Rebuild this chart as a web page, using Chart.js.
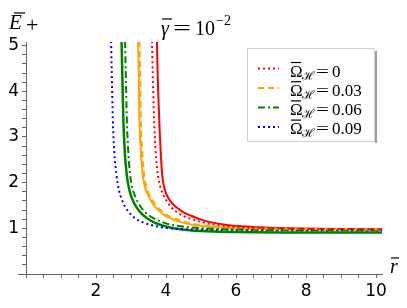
<!DOCTYPE html>
<html>
<head>
<meta charset="utf-8">
<script src="https://cdn.jsdelivr.net/npm/chart.js@4.4.0/dist/chart.umd.min.js"></script>
<style>
  html, body { margin: 0; padding: 0; background: #fff; }
</style>
</head>
<body>
<canvas id="chart" width="407" height="308"></canvas>
<script>
// Data (r̄, Ē+)
const legendLabels = ["0", "0.03", "0.06", "0.09"];

// legend curves (dotted / dashed / dash-dot)
const rRedDot = [3.60, 3.62, 3.65, 3.68, 3.72, 3.77, 3.84, 3.93, 4.05, 4.16, 4.30, 4.50, 4.70, 5.00, 5.40, 6.00, 7.00, 8.00, 10.2];
const eRedDot = [5.10, 4.40, 3.60, 3.00, 2.50, 2.15, 1.90, 1.72, 1.56, 1.45, 1.36, 1.27, 1.21, 1.14, 1.08, 1.03, 1.00, 0.99, 0.98];
const rOrangeDash = [3.24, 3.26, 3.28, 3.32, 3.37, 3.44, 3.54, 3.66, 3.82, 4.03, 4.30, 4.60, 5.00, 5.60, 6.50, 8.00, 10.2];
const eOrangeDash = [5.10, 4.40, 3.40, 2.70, 2.20, 1.90, 1.72, 1.56, 1.42, 1.29, 1.20, 1.13, 1.07, 1.03, 1.00, 0.99, 0.98];
const rGreenDashDot = [2.83, 2.85, 2.88, 2.92, 2.97, 3.04, 3.13, 3.25, 3.42, 3.65, 3.95, 4.30, 4.70, 5.30, 6.50, 8.00, 10.2];
const eGreenDashDot = [5.10, 4.40, 3.40, 2.70, 2.20, 1.88, 1.68, 1.50, 1.34, 1.22, 1.12, 1.06, 1.02, 0.99, 0.97, 0.96, 0.96];
const rBlueDot = [2.43, 2.45, 2.48, 2.52, 2.58, 2.65, 2.74, 2.85, 3.00, 3.20, 3.45, 3.75, 4.10, 4.60, 5.50, 7.00, 10.2];
const eBlueDot = [5.10, 4.40, 3.40, 2.70, 2.20, 1.85, 1.63, 1.45, 1.30, 1.18, 1.10, 1.04, 1.00, 0.98, 0.97, 0.96, 0.96];

// solid companion curves
const rRedSolid = [3.74, 3.76, 3.79, 3.82, 3.86, 3.90, 3.96, 4.04, 4.15, 4.30, 4.50, 4.70, 5.00, 5.30, 5.80, 6.50, 7.50, 10.2];
const eRedSolid = [5.10, 4.40, 3.70, 3.10, 2.50, 2.10, 1.86, 1.70, 1.57, 1.46, 1.35, 1.28, 1.19, 1.13, 1.07, 1.03, 1.00, 0.98];
const rOrangeSolid = [3.20, 3.22, 3.24, 3.28, 3.33, 3.40, 3.49, 3.60, 3.75, 3.95, 4.20, 4.50, 4.90, 5.50, 6.50, 8.00, 10.2];
const eOrangeSolid = [5.10, 4.40, 3.40, 2.70, 2.20, 1.90, 1.72, 1.56, 1.42, 1.29, 1.19, 1.12, 1.06, 1.02, 0.99, 0.98, 0.97];
const rGreenSolid = [2.73, 2.75, 2.78, 2.82, 2.88, 2.95, 3.03, 3.14, 3.30, 3.50, 3.75, 4.05, 4.40, 5.00, 6.00, 8.00, 10.2];
const eGreenSolid = [5.10, 4.40, 3.40, 2.70, 2.16, 1.85, 1.65, 1.48, 1.32, 1.20, 1.10, 1.03, 0.98, 0.94, 0.92, 0.91, 0.91];

const toPoints = (rs, es) => rs.map((r, i) => ({ x: r, y: es[i] }));

const red = "#ff0000", orange = "#ffa500", green = "#008000", blue = "#0000ff";

const lineSet = (rs, es, color, dash, width) => ({
  data: toPoints(rs, es),
  borderColor: color,
  borderWidth: width,
  borderDash: dash,
  pointRadius: 0,
  fill: false,
  showLine: true,
  cubicInterpolationMode: "monotone",
});

// first four are the legend entries (drawn on top)
const datasets = [
  lineSet(rRedDot, eRedDot, red, [2, 3], 2),
  lineSet(rOrangeDash, eOrangeDash, orange, [6, 4], 2),
  lineSet(rGreenDashDot, eGreenDashDot, green, [7, 3, 2, 3], 2),
  lineSet(rBlueDot, eBlueDot, blue, [2, 3], 2),
  lineSet(rRedSolid, eRedSolid, red, [], 2),
  lineSet(rOrangeSolid, eOrangeSolid, orange, [], 2),
  lineSet(rGreenSolid, eGreenSolid, green, [], 2.5),
];

const serif = '"Liberation Serif", "DejaVu Serif", serif';

const overbar = (ctx, x1, x2, y) => {
  ctx.beginPath();
  ctx.moveTo(x1, y);
  ctx.lineTo(x2, y);
  ctx.lineWidth = 1.2;
  ctx.strokeStyle = "#000";
  ctx.setLineDash([]);
  ctx.stroke();
};

// wide "=" like the TeX one
const wideEq = (ctx, x, y, size, sx) => {
  ctx.save();
  ctx.font = `${size}px ${serif}`;
  ctx.translate(x, y);
  ctx.scale(sx, 1);
  ctx.fillText("=", 0, 0);
  ctx.restore();
};

// Texts and legend
const overlay = {
  id: "overlay",
  afterDraw(chart) {
    const ctx = chart.ctx;
    ctx.save();
    ctx.fillStyle = "#000";
    ctx.textBaseline = "alphabetic";
    ctx.textAlign = "left";

    // axis stubs past the origin
    ctx.fillStyle = "#666";
    ctx.fillRect(18, 274, 8, 1);
    ctx.fillStyle = "#000";

    // y label
    ctx.font = `italic 21px ${serif}`;
    ctx.fillText("E", 9, 29);
    overbar(ctx, 14, 25, 13);
    ctx.font = `22px ${serif}`;
    ctx.fillText("+", 26, 32);

    // x label
    ctx.font = `italic 20px ${serif}`;
    ctx.fillText("r", 390, 273);
    overbar(ctx, 391, 399, 258);

    // title
    ctx.font = `italic 20px ${serif}`;
    ctx.fillText("γ", 161, 35);
    overbar(ctx, 162, 172, 19);
    wideEq(ctx, 173, 35, 20, 1.6);
    ctx.font = `20px ${serif}`;
    ctx.fillText("10", 195, 35);
    ctx.font = `14px ${serif}`;
    ctx.fillText("−2", 216, 25);

    // legend box
    ctx.fillStyle = "#fff";
    ctx.fillRect(247, 48, 128, 94);
    ctx.strokeStyle = "#cfcfcf";
    ctx.lineWidth = 1;
    ctx.strokeRect(247.5, 48.5, 127, 93);
    ctx.fillStyle = "#a0a0a0";
    ctx.fillRect(375, 51, 2, 92);

    legendLabels.forEach((lab, i) => {
      const ds = chart.data.datasets[i];
      const yl = 68.5 + i * 19.5;
      const yb = 76.5 + i * 19.2;
      ctx.beginPath();
      ctx.setLineDash(ds.borderDash);
      ctx.strokeStyle = ds.borderColor;
      ctx.lineWidth = ds.borderWidth;
      ctx.moveTo(258, yl);
      ctx.lineTo(279, yl);
      ctx.stroke();
      ctx.setLineDash([]);

      ctx.fillStyle = "#000";
      ctx.font = `17px ${serif}`;
      ctx.fillText("Ω", 290, yb);
      overbar(ctx, 291, 301, yb - 14);
      ctx.font = `12px ${serif}`;
      ctx.fillText("ℋ", 302, yb + 3);
      wideEq(ctx, 316, yb, 17, 1.35);
      ctx.font = `17px ${serif}`;
      ctx.fillText(lab, 332, yb);
    });
    ctx.restore();
  },
};

const tickFont = { family: '"DejaVu Sans", sans-serif', size: 17 };
const isWhole = (v) => Math.abs(v - Math.round(v)) < 1e-6;

new Chart(document.getElementById("chart"), {
  type: "scatter",
  data: { datasets },
  options: {
    responsive: false,
    animation: false,
    layout: { padding: { top: 42, right: 25, left: 0, bottom: 0 } },
    plugins: { legend: { display: false }, tooltip: { enabled: false } },
    scales: {
      x: {
        type: "linear",
        min: 0,
        max: 10.17,
        afterFit: (s) => { s.height = 34; },
        ticks: {
          stepSize: 0.5,
          includeBounds: false,
          autoSkip: false,
          maxRotation: 0,
          padding: 3,
          color: "#000",
          font: tickFont,
          callback: (v) => (v > 0 && isWhole(v) && Math.round(v) % 2 === 0 ? Math.round(v) : ""),
        },
        grid: { drawOnChartArea: false, drawTicks: true, tickLength: 4, color: "#666" },
        border: { color: "#666", width: 1 },
      },
      y: {
        type: "linear",
        min: 0,
        max: 5.08,
        afterFit: (s) => { s.width = 26; },
        ticks: {
          stepSize: 0.2,
          includeBounds: false,
          autoSkip: false,
          padding: 3,
          color: "#000",
          font: tickFont,
          callback: (v) => (v > 0 && isWhole(v) ? Math.round(v) : ""),
        },
        grid: { drawOnChartArea: false, drawTicks: true, tickLength: 4, color: "#666" },
        border: { color: "#666", width: 1 },
      },
    },
  },
  plugins: [overlay],
});
</script>
</body>
</html>
